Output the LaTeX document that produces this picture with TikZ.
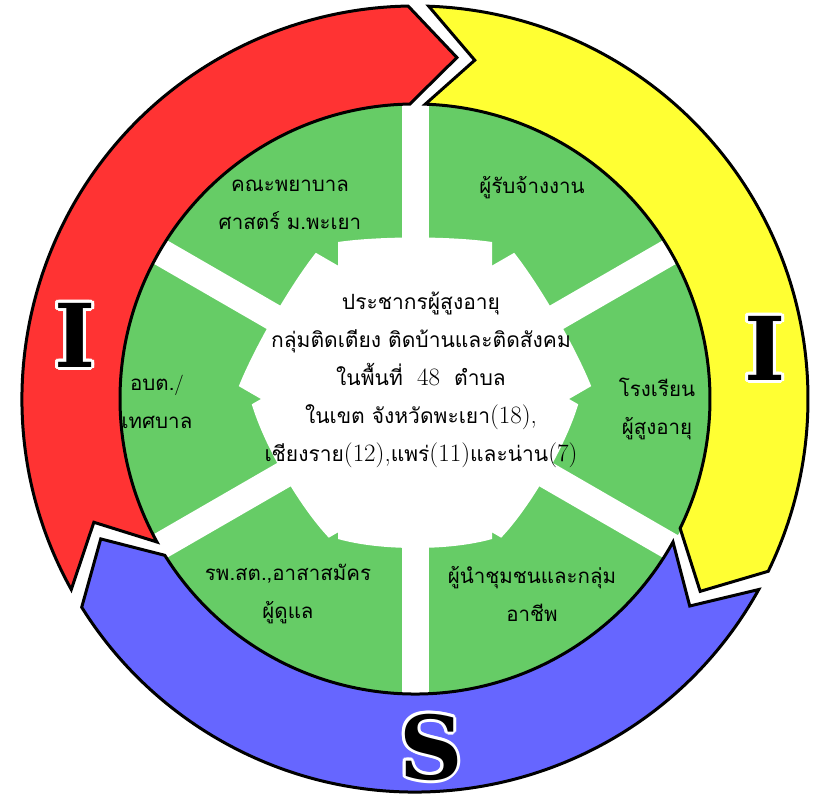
\documentclass[tikz,border=0pt]{standalone}
\usepackage{fontspec}
\newfontfamily\thai[Script=Thai]{Loma}
\newfontfamily\bigserif{DejaVu Serif}
\definecolor{ringred}{RGB}{255,51,51}
\definecolor{ringyellow}{RGB}{255,255,51}
\definecolor{ringblue}{RGB}{102,102,255}
\definecolor{diskgreen}{RGB}{102,204,102}
\newcommand\ringarrow[5]{%
  \filldraw[fill=#1, draw=black, line width=3] (#2:393) arc[start angle=#2, end angle=#4, radius=393]
    -- (#5:344) -- (#4:295) arc[start angle=#4, end angle=#2, radius=295] -- (#3:344) -- cycle;}
\newcommand\digs[1]{{\rmfamily\fontsize{25}{38}\selectfont #1}}
\tikzset{
  sectortext/.style={align=center, font=\thai\fontsize{20.5}{38}\selectfont},
  centertext/.style={align=center, font=\thai\fontsize{21}{38}\selectfont},
  bigletter/.style={font=\bigserif\bfseries\fontsize{88}{88}\selectfont, inner sep=0pt},
}
\begin{document}
\begin{tikzpicture}[x=1pt,y=1pt]
\useasboundingbox (0,0) rectangle (814,794);
\begin{scope}[shift={(415,395)}]
  \fill[diskgreen] (0,0) circle (296);
  \foreach \a/\e/\m in {90/157/163,30/159/165,150/159/165,-30/144/154,-90/140/152,210/144/154} {
    \fill[white,rotate=\a] (0,-77) -- (\e,-77) .. controls (\m,-35) and (\m,35) .. (\e,77) -- (0,77) -- cycle;
    \fill[white,rotate=\a] (0,-13.5) rectangle (297,13.5);
  }
\end{scope}
% sector texts
\node[sectortext] (nurse) at (290,589) {คณะพยาบาล\\ศาสตร์ ม.พะเยา};
\node[sectortext] (hire) at (532,606) {ผู้รับจ้างงาน};
\node[sectortext] (local) at (157,392) {อบต.{\rmfamily/}\\เทศบาล};
\node[sectortext] (school) at (657,385) {โรงเรียน\\ผู้สูงอายุ};
\node[sectortext] (hosp) at (288,200) {รพ.สต.,อาสาสมัคร\\ผู้ดูแล};
\node[sectortext] (leader) at (532,200) {ผู้นำชุมชนและกลุ่ม\\อาชีพ};
% centre text
\node[centertext] (core) at (421,414) {ประชากรผู้สูงอายุ\\กลุ่มติดเตียง ติดบ้านและติดสังคม\\ในพื้นที่\ \ \digs{48}\ \ ตำบล\\ในเขต จังหวัดพะเยา\digs{(18),}\\เชียงราย\digs{(12),}แพร่\digs{(11)}และน่าน\digs{(7)}};
% ring arrows
\begin{scope}[shift={(415,395)}]
  \ringarrow{ringred}{209}{201}{91}{83}
  \ringarrow{ringyellow}{88}{80}{-26}{-34}
  \ringarrow{ringblue}{-29}{-37}{-148}{-156}
\end{scope}
% letters with white halo
\foreach \px/\py/\t in {75/459/I, 765/446/I, 431/47/S} {
  \foreach \ang in {0,30,...,330}
    \node[bigletter, text=white, shift={(\ang:3)}] at (\px,\py) {\t};
}
\node[bigletter] (lettL) at (75,459) {I};
\node[bigletter] (lettR) at (765,446) {I};
\node[bigletter] (lettS) at (431,47) {S};
\end{tikzpicture}
\end{document}
